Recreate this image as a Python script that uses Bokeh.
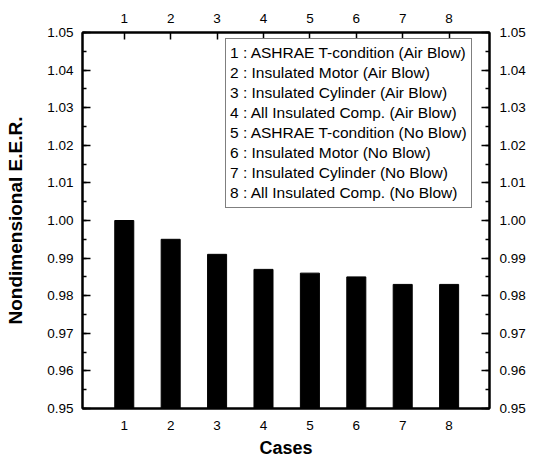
from bokeh.plotting import figure
from bokeh.models import (Range1d, LinearAxis, FixedTicker, SingleIntervalTicker,
                          Legend, LegendItem, ColumnDataSource, NumeralTickFormatter)
from bokeh.embed import file_html
from bokeh.resources import INLINE

# ---- data ----
cases = [1, 2, 3, 4, 5, 6, 7, 8]
eer = [1.000, 0.995, 0.991, 0.987, 0.986, 0.985, 0.983, 0.983]
case_labels = [
    "1 : ASHRAE T-condition (Air Blow)",
    "2 : Insulated Motor (Air Blow)",
    "3 : Insulated Cylinder (Air Blow)",
    "4 : All Insulated Comp. (Air Blow)",
    "5 : ASHRAE T-condition (No Blow)",
    "6 : Insulated Motor (No Blow)",
    "7 : Insulated Cylinder (No Blow)",
    "8 : All Insulated Comp. (No Blow)",
]
y_min, y_max = 0.95, 1.05
x_min, x_max = 0.1, 8.87
x_label = "Cases"
y_label = "Nondimensional E.E.R."

FONT = "Liberation Sans"
TICK_FS = "13.5px"

p = figure(width=541, height=462, output_backend="svg", toolbar_location=None,
           x_range=Range1d(x_min, x_max), y_range=Range1d(y_min, y_max),
           x_axis_location=None, y_axis_location=None,
           min_border_left=82, min_border_right=52, min_border_top=32, min_border_bottom=54)
p.grid.visible = False
p.outline_line_color = "black"
p.outline_line_width = 2
p.background_fill_color = "white"
p.border_fill_color = "white"

src = ColumnDataSource(dict(x=cases, top=eer))
p.vbar(x="x", top="top", bottom=y_min, width=0.41, source=src,
       fill_color="black", line_color="black")

def style_axis(ax, standoff):
    ax.axis_line_color = "black"
    ax.axis_line_width = 2
    ax.major_tick_in = 8
    ax.major_tick_out = 0
    ax.minor_tick_in = 4
    ax.minor_tick_out = 0
    ax.major_tick_line_width = 1.5
    ax.minor_tick_line_width = 1.5
    ax.major_label_text_font = FONT
    ax.major_label_text_font_size = TICK_FS
    ax.major_label_text_color = "black"
    ax.major_label_standoff = standoff
    ax.axis_label_text_font = FONT
    ax.axis_label_text_font_style = "bold"
    ax.axis_label_text_font_size = "18px"
    ax.axis_label_text_color = "black"

left = LinearAxis(ticker=SingleIntervalTicker(interval=0.01, num_minor_ticks=2),
                  formatter=NumeralTickFormatter(format="0.00"), axis_label=y_label)
style_axis(left, 9)
left.axis_label_standoff = 18
left.axis_label_text_font_size = "19px"
p.add_layout(left, "left")

right = LinearAxis(ticker=SingleIntervalTicker(interval=0.01, num_minor_ticks=2),
                   formatter=NumeralTickFormatter(format="0.00"))
style_axis(right, 10)
p.add_layout(right, "right")

bottom = LinearAxis(ticker=FixedTicker(ticks=cases), axis_label=x_label)
style_axis(bottom, 12)
bottom.axis_label_standoff = 5
p.add_layout(bottom, "below")

top = LinearAxis(ticker=FixedTicker(ticks=cases))
style_axis(top, 10)
top.major_tick_in = 7
p.add_layout(top, "above")

dummy = p.scatter(x=[], y=[], alpha=0)
items = [LegendItem(label=lbl, renderers=[dummy]) for lbl in case_labels]
legend = Legend(items=items, location=(143, 200), orientation="vertical",
                glyph_width=0, glyph_height=20, label_height=20, label_standoff=0,
                spacing=0, padding=4, margin=0,
                border_line_color="black", border_line_width=1.5,
                background_fill_color="white", background_fill_alpha=1,
                label_text_font=FONT, label_text_font_size="15.5px",
                label_text_color="black")
p.add_layout(legend, "center")

open("out.html", "w").write(file_html(p, INLINE))
